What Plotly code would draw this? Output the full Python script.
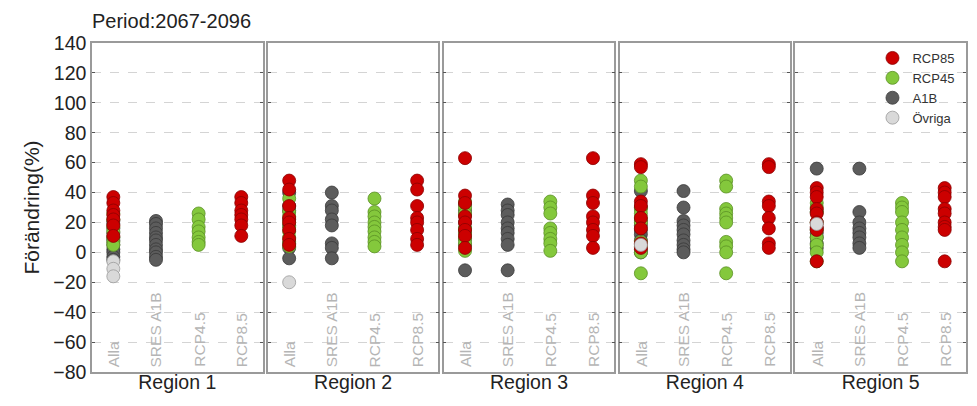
import plotly.graph_objects as go
from plotly.subplots import make_subplots

categories = ["Alla", "SRES A1B", "RCP4.5", "RCP8.5"]
regions = ["Region 1", "Region 2", "Region 3", "Region 4", "Region 5"]

rcp85 = [
    [37, 33, 28, 25, 22, 18, 11],
    [48, 42, 31, 23, 20, 15, 9, 5],
    [63, 38, 33, 24, 20, 15, 11, 3],
    [59, 57, 34, 31, 23, 16, 6, 3],
    [43, 40, 37, 29, 26, 20, 17, 15, -6],
]
rcp45 = [
    [26, 22, 17, 14, 10, 7, 5],
    [36, 27, 24, 20, 17, 14, 10, 7, 4],
    [34, 30, 26, 16, 13, 9, 6, 1],
    [48, 44, 29, 26, 23, 20, 7, 4, 0, -14],
    [33, 30, 27, 20, 15, 10, 5, 0, -6],
]
a1b = [
    [21, 19, 16, 13, 10, 8, 5, 2, 0, -3, -5],
    [40, 31, 28, 22, 18, 6, 3, -4],
    [32, 28, 25, 20, 16, 13, 9, 5, -12],
    [41, 30, 21, 18, 15, 12, 8, 5, 2, 0],
    [56, 27, 20, 16, 13, 10, 6, 3],
]
ovriga = [
    [-6, -11, -16],
    [-20],
    [],
    [5],
    [19],
]

styles = {
    "RCP85": dict(color="#cc0000", line=dict(color="#8a0000", width=0.8)),
    "RCP45": dict(color="#84c83c", line=dict(color="#5a8f25", width=0.8)),
    "A1B": dict(color="#5c5c5c", line=dict(color="#3a3a3a", width=0.8)),
    "Övriga": dict(color="#d9d9d9", line=dict(color="#9a9a9a", width=0.8)),
}
rank = {"RCP85": 1, "RCP45": 2, "A1B": 3, "Övriga": 4}

FONT = "Liberation Sans"

fig = make_subplots(rows=1, cols=5, shared_yaxes=True, horizontal_spacing=0.006)

for i in range(5):
    col = i + 1
    groups = [("A1B", a1b[i]), ("RCP45", rcp45[i]), ("RCP85", rcp85[i]), ("Övriga", ovriga[i])]
    for name, vals in groups:
        fig.add_trace(go.Scatter(
            x=["Alla"] * len(vals), y=vals, mode="markers", name=name,
            marker=dict(size=13, **styles[name]),
            showlegend=(i == 4), legendrank=rank[name], hoverinfo="y",
        ), row=1, col=col)
    for name, vals, cat in [("A1B", a1b[i], "SRES A1B"), ("RCP45", rcp45[i], "RCP4.5"), ("RCP85", rcp85[i], "RCP8.5")]:
        fig.add_trace(go.Scatter(
            x=[cat] * len(vals), y=vals, mode="markers", name=name,
            marker=dict(size=13, **styles[name]),
            showlegend=False, hoverinfo="y",
        ), row=1, col=col)
    for cat in categories:
        fig.add_annotation(
            x=cat, y=-80, xref=f"x{'' if col == 1 else col}", yref="y",
            text=cat, textangle=-90, showarrow=False,
            xanchor="center", yanchor="bottom", yshift=3,
            font=dict(size=15.5, color="#b5b5b5", family=FONT),
        )

for i in range(5):
    fig.update_xaxes(
        type="category", categoryorder="array", categoryarray=categories,
        range=[-0.5, 3.5], showticklabels=False, ticks="",
        showline=True, linecolor="#9a9a9a", linewidth=1.5, mirror=True,
        showgrid=False, zeroline=False,
        title=dict(text=regions[i], standoff=3, font=dict(size=19.5, color="#222222", family=FONT)),
        row=1, col=i + 1,
    )
    fig.update_yaxes(
        range=[-80, 140], dtick=20, tick0=0,
        showline=True, linecolor="#9a9a9a", linewidth=1.5, mirror="allticks",
        ticks="inside", ticklen=3, tickcolor="#555555",
        showgrid=True, gridcolor="#d4d4d4", griddash="dash", gridwidth=1,
        zeroline=False,
        row=1, col=i + 1,
    )

fig.update_yaxes(
    title=dict(text="Förändring(%)", font=dict(size=21, color="#222222", family=FONT), standoff=8),
    tickfont=dict(size=19.5, color="#222222", family=FONT),
    row=1, col=1,
)

fig.add_annotation(
    text="Period:2067-2096", xref="paper", yref="paper", x=0, y=1,
    xanchor="left", yanchor="bottom", yshift=9, xshift=-2, showarrow=False,
    font=dict(size=20, color="#222222", family=FONT),
)

fig.update_layout(
    width=969, height=398,
    margin=dict(l=84, r=11, t=35, b=34, autoexpand=False),
    paper_bgcolor="white", plot_bgcolor="white",
    font=dict(family=FONT, color="#222222"),
    showlegend=True,
    legend=dict(
        x=0.893, y=1.0, xanchor="left", yanchor="top",
        bgcolor="rgba(0,0,0,0)", font=dict(size=13, color="#333333", family=FONT),
        itemwidth=30, tracegroupgap=0,
    ),
)

fig.write_html("out.html")
